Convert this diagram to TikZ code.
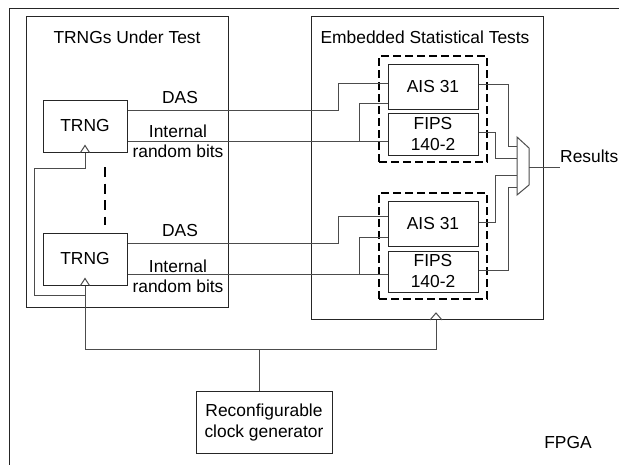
\documentclass[tikz,border=0pt]{standalone}
\usepackage{fontspec}
\setmainfont{Liberation Sans}
\begin{document}
\begin{tikzpicture}[x=1pt,y=-1pt, font=\fontsize{17.4}{21}\selectfont,
  box/.style={draw=black!85, line width=1pt, inner sep=0pt, align=center},
  wire/.style={draw=black!70, line width=1pt},
  dbox/.style={draw=black, line width=2pt, dash pattern=on 8pt off 4pt},
  lbl/.style={inner sep=0pt}]
\clip (0,0) rectangle (619,464);
% FPGA outline
\draw[line width=1pt, black!85] (9,480) -- (9,8) -- (640,8);
\node[lbl, anchor=base] (fpga) at (568,448) {FPGA};
% containers
\node[box, minimum width=202pt, minimum height=291pt, anchor=north west] (trc) at (26,16) {};
\node[lbl, anchor=base] (trct) at (127,43) {TRNGs Under Test};
\node[box, minimum width=232pt, minimum height=303pt, anchor=north west] (emb) at (311,16) {};
\node[lbl, anchor=base] (embt) at (425,43) {Embedded Statistical Tests};
% TRNGs
\node[box, minimum width=84pt, minimum height=52pt] (t1) at (85,126) {TRNG};
\node[box, minimum width=84pt, minimum height=52pt] (t2) at (85,259) {TRNG};
\draw[line width=2pt, dash pattern=on 10pt off 6.5pt] (105,167) -- (105,225);
% dashed groups
\node[dbox, minimum width=108pt, minimum height=106pt] (d1) at (433,109) {};
\node[dbox, minimum width=108pt, minimum height=106pt] (d2) at (433,246) {};
\node[box, minimum width=90pt, minimum height=45pt] (a1) at (433,86.5) {AIS 31};
\node[box, minimum width=90pt, minimum height=42pt] (f1) at (433,134) {FIPS\\140-2};
\node[box, minimum width=90pt, minimum height=45pt] (a2) at (433,223.5) {AIS 31};
\node[box, minimum width=90pt, minimum height=41pt] (f2) at (433,271.5) {FIPS\\140-2};
% clock generator
\node[box, minimum width=136pt, minimum height=62pt] (clk) at (264,422) {Reconfigurable\\clock generator};
% labels
\node[lbl, anchor=base] (das1) at (180,103) {DAS};
\node[lbl, anchor=base] (ib1) at (178,137) {Internal};
\node[lbl, anchor=base] (rb1) at (178,157) {random bits};
\node[lbl, anchor=base] (das2) at (180,236) {DAS};
\node[lbl, anchor=base] (ib2) at (178,272) {Internal};
\node[lbl, anchor=base] (rb2) at (178,292) {random bits};
% data wires
\draw[wire] (t1.east |- 0,110) -- (338,110) |- (a1.west |- 0,83);
\draw[wire] (t1.east |- 0,141) -- (f1.west |- 0,141);
\draw[wire] (359,141) |- (a1.west |- 0,103);
\draw[wire] (t2.east |- 0,243) -- (338,243) |- (a2.west |- 0,216);
\draw[wire] (t2.east |- 0,274) -- (f2.west |- 0,274);
\draw[wire] (359,274) |- (a2.west |- 0,237);
% mux
\coordinate (m1) at (517,146);
\coordinate (m2) at (517,158);
\coordinate (m3) at (517,175);
\coordinate (m4) at (517,187);
\coordinate (mo) at (529,167);
\draw[wire] (517,137) -- (529,148) -- (529,185) -- (517,195) -- cycle;
\draw[wire] (a1.east |- 0,84) -| (508,146) -- (m1);
\draw[wire] (f1.east |- 0,132) -| (495,158) -- (m2);
\draw[wire] (a2.east |- 0,222) -| (495,175) -- (m3);
\draw[wire] (f2.east |- 0,270) -| (508,187) -- (m4);
\node[lbl, anchor=base west] (res) at (560,162) {Results};
\draw[wire] (mo) -- (res.west |- mo);
% clock wires
\draw[wire] (clk.north -| 259,0) -- (259,349);
\draw[wire] (t2.south) -- (t2.south |- 0,349) -- (436,349) -- (emb.south -| 436,0);
\draw[wire] (t1.south) |- (34,168) |- (t2.south |- 0,295);
\draw[wire] ([xshift=-4.5pt]t1.south) -- ++(4.5,-7) -- ++(4.5,7);
\draw[wire] ([xshift=-4.5pt]t2.south) -- ++(4.5,-7) -- ++(4.5,7);
\draw[wire] (emb.south -| 430,0) -- ++(6,-7) -- ++(6,7);
\end{tikzpicture}
\end{document}
